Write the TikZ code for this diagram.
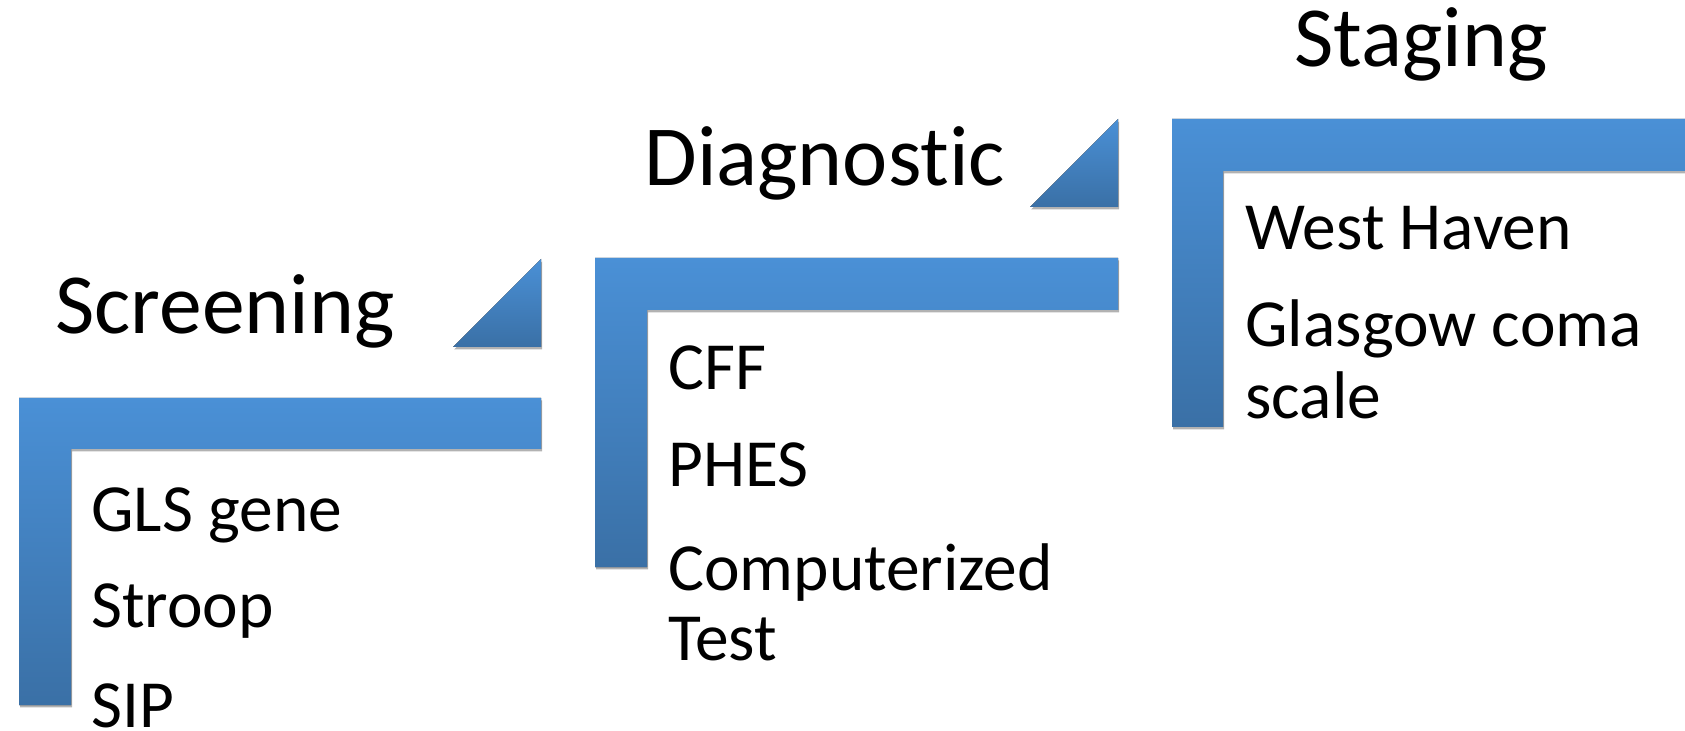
\documentclass[tikz,border=0pt]{standalone}
\usepackage{fontspec}
\setmainfont[Ligatures=NoCommon]{Carlito}
\usetikzlibrary{shadows}

\definecolor{stepTop}{HTML}{4A90D6}
\definecolor{stepBot}{HTML}{3A70A6}

\tikzset{
  stepshape/.style={top color=stepTop, bottom color=stepBot, draw=none,
    drop shadow={shadow xshift=0.6pt, shadow yshift=-1.2pt, opacity=0.3, fill=black}},
  headtext/.style={font=\fontsize{42.8}{50}\selectfont, anchor=base west, inner sep=0pt},
  itemtext/.style={font=\fontsize{33.7}{36}\selectfont, anchor=base west, inner sep=0pt},
}

\begin{document}
\begin{tikzpicture}[x=0.5pt, y=-0.5pt]
  \useasboundingbox (0,0) rectangle (1685,731);

  % ---- step 1: screening ----
  \fill[stepshape] (19,398) -- (541,398) -- (541,449) -- (71,449) -- (71,705) -- (19,705) -- cycle;
  \fill[stepshape] (541,259) -- (541,347) -- (453,347) -- cycle;
  \node[headtext] (screening) at (55,334) {Screening};
  \node[itemtext] (gls)    at (91,531) {GLS gene};
  \node[itemtext] (stroop) at (91,627) {Stroop};
  \node[itemtext] (sip)    at (91,727) {SIP};

  % ---- step 2: diagnostic ----
  \fill[stepshape] (595,258) -- (1118,258) -- (1118,310) -- (647,310) -- (647,567) -- (595,567) -- cycle;
  \fill[stepshape] (1118,119) -- (1118,207) -- (1030,207) -- cycle;
  \node[headtext] (diagnostic) at (644,186) {Diagnost\kern0pt ic};
  \node[itemtext] (cff)   at (668,390) {CFF};
  \node[itemtext] (phes)  at (668,487) {PHES};
  \node[itemtext] (comp)  at (668,590) {Computerized};
  \node[itemtext] (test)  at (668,660) {Test};

  % ---- step 3: staging ----
  \fill[stepshape] (1172,119) -- (1690,119) -- (1690,171) -- (1223,171) -- (1223,427) -- (1172,427) -- cycle;
  \node[headtext] (staging) at (1294,67) {Staging};
  \node[itemtext] (westhaven) at (1245,250) {West Haven};
  \node[itemtext] (glasgow)   at (1245,347) {Glasgow coma};
  \node[itemtext] (scale)     at (1245,419) {scale};
\end{tikzpicture}
\end{document}
